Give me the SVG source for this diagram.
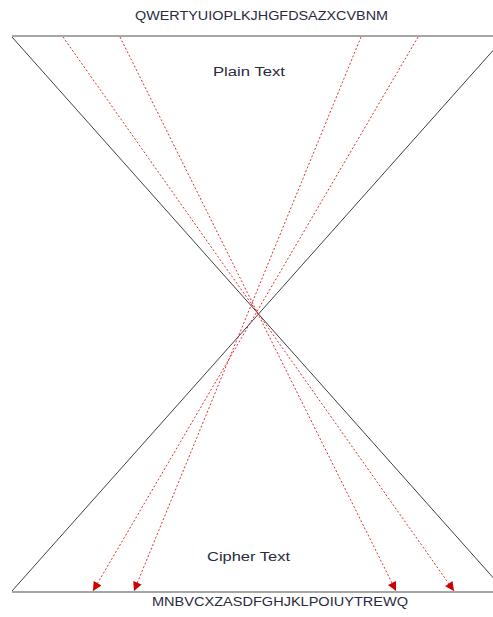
<svg xmlns="http://www.w3.org/2000/svg" width="493" height="617" viewBox="0 0 493 617">
<style>
.t{font-family:"Liberation Sans",Arial,sans-serif;font-size:12px;fill:#2a2a40}
.bar{stroke:#a6a6a6;stroke-width:2;fill:none}
.diag{stroke:#404040;stroke-width:1;fill:none}
.arr{stroke:#e03030;stroke-width:1;stroke-dasharray:2,2;fill:none;marker-end:url(#ah)}
</style>
<defs>
<marker id="ah" viewBox="0 0 10 10" refX="10" refY="5" markerWidth="10" markerHeight="9" markerUnits="userSpaceOnUse" orient="auto">
<path d="M0,0 L10,5 L0,10 z" fill="#cc0000"/>
</marker>
</defs>
<rect width="493" height="617" fill="#fff"/>
<g id="top-bar"><line class="bar" x1="12" y1="36" x2="493" y2="36"/></g>
<g id="bottom-bar"><line class="bar" x1="12" y1="592" x2="493" y2="592"/></g>
<g id="top-alphabet"><text class="t" x="135" y="20" textLength="253" lengthAdjust="spacingAndGlyphs">QWERTYUIOPLKJHGFDSAZXCVBNM</text></g>
<g id="plain-text"><text class="t" x="213" y="76" textLength="72" lengthAdjust="spacingAndGlyphs">Plain Text</text></g>
<g id="cipher-text"><text class="t" x="207" y="561" textLength="83" lengthAdjust="spacingAndGlyphs">Cipher Text</text></g>
<g id="bottom-alphabet"><text class="t" x="152" y="606" textLength="256" lengthAdjust="spacingAndGlyphs">MNBVCXZASDFGHJKLPOIUYTREWQ</text></g>
<g id="connectors">
<line class="diag" x1="12" y1="37" x2="505" y2="591"/>
<line class="diag" x1="12" y1="591" x2="505" y2="37"/>
<line class="arr" x1="63" y1="37" x2="454" y2="591"/>
<line class="arr" x1="120" y1="37" x2="396" y2="591"/>
<line class="arr" x1="361" y1="37" x2="134" y2="591"/>
<line class="arr" x1="418" y1="37" x2="93" y2="591"/>
</g>
</svg>
